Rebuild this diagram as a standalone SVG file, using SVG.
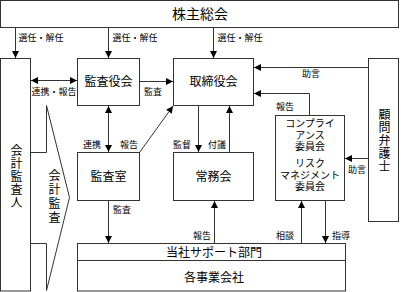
<svg xmlns="http://www.w3.org/2000/svg" width="401" height="292" viewBox="0 0 401 292">
<style>
.box{fill:#fff;stroke:#333;stroke-width:1}
.ln{fill:none;stroke:#333;stroke-width:1}
text{font-family:"Liberation Sans","Noto Sans CJK JP","Noto Sans CJK SC",sans-serif;fill:#000}
.t{font-size:12px;text-anchor:middle}
.v{font-size:12px;text-anchor:middle;writing-mode:vertical-rl}
.s{font-size:9px;text-anchor:middle}
.c{font-size:10px;text-anchor:middle}
</style>
<defs>
<marker id="ah" markerUnits="userSpaceOnUse" markerWidth="8" markerHeight="8" refX="7" refY="4" orient="auto-start-reverse">
<path d="M0,0.5 L7,4 L0,7.5 z" fill="#000"/>
</marker>
</defs>
<rect width="401" height="292" fill="#fff"/>
<g id="kabunushi"><rect class="box" x="0.5" y="0.5" width="398" height="27"/><text x="200" y="19" style="font-size:14px;text-anchor:middle">株主総会</text></g>
<g id="kaikei-kansanin"><rect class="box" x="0.5" y="58.5" width="30" height="232.5"/>
<text class="v" x="15" y="177" letter-spacing="1">会計監査人</text></g>
<g id="kaikei-kansa"><polyline class="ln" points="30.5,152.5 46.5,152.5 46.5,105.5 69.5,197.5 46.5,290.5 46.5,243.5 30.5,243.5"/>
<text class="v" x="53" y="197" letter-spacing="2">会計監査</text></g>
<g id="kansayakukai"><rect class="box" x="77.5" y="58.5" width="62" height="47"/><text class="t" x="108.5" y="86">監査役会</text></g>
<g id="torishimariyakukai"><rect class="box" x="173.5" y="58.5" width="80" height="47"/><text class="t" x="213.5" y="86">取締役会</text></g>
<g id="kansashitsu"><rect class="box" x="77.5" y="152.5" width="62" height="48"/><text class="t" x="108.5" y="181">監査室</text></g>
<g id="jomukai"><rect class="box" x="173.5" y="152.5" width="80" height="48"/><text class="t" x="213.5" y="181">常務会</text></g>
<g id="compliance"><rect class="box" x="275.5" y="115.5" width="69" height="85"/>
<text class="c" x="310" y="127">コンプライ</text>
<text class="c" x="310" y="138.5">アンス</text>
<text class="c" x="310" y="150">委員会</text>
<text class="c" x="310" y="167">リスク</text>
<text class="c" x="310" y="178.5">マネジメント</text>
<text class="c" x="310" y="190">委員会</text></g>
<g id="komon"><rect class="box" x="368.5" y="58.5" width="30" height="163"/>
<text class="v" x="383" y="141" letter-spacing="1">顧問弁護士</text></g>
<g id="support"><rect class="box" x="77.5" y="243.5" width="268" height="17"/><text class="t" x="214" y="256.5">当社サポート部門</text></g>
<g id="jigyogaisha"><rect class="box" x="77.5" y="260.5" width="268" height="30.5"/><text class="t" x="214" y="281.5">各事業会社</text></g>
<g id="connectors">
<line class="ln" x1="15.5" y1="28" x2="15.5" y2="58" marker-end="url(#ah)"/>
<line class="ln" x1="108.5" y1="28" x2="108.5" y2="58" marker-end="url(#ah)"/>
<line class="ln" x1="213.5" y1="28" x2="213.5" y2="58" marker-end="url(#ah)"/>
<line class="ln" x1="31" y1="80.5" x2="77" y2="80.5" marker-start="url(#ah)" marker-end="url(#ah)"/>
<line class="ln" x1="140" y1="81.5" x2="173" y2="81.5" marker-end="url(#ah)"/>
<line class="ln" x1="368" y1="67.5" x2="254" y2="67.5" marker-end="url(#ah)"/>
<polyline class="ln" points="309.5,115 309.5,93.5 254,93.5" marker-end="url(#ah)"/>
<line class="ln" x1="108.5" y1="106" x2="108.5" y2="152" marker-start="url(#ah)" marker-end="url(#ah)"/>
<line class="ln" x1="139.5" y1="152.5" x2="173" y2="106" marker-end="url(#ah)"/>
<line class="ln" x1="198.5" y1="106" x2="198.5" y2="152" marker-end="url(#ah)"/>
<line class="ln" x1="229.5" y1="152" x2="229.5" y2="106" marker-end="url(#ah)"/>
<line class="ln" x1="368" y1="158.5" x2="345" y2="158.5" marker-end="url(#ah)"/>
<line class="ln" x1="108.5" y1="201" x2="108.5" y2="243" marker-end="url(#ah)"/>
<line class="ln" x1="214.5" y1="243" x2="214.5" y2="201" marker-end="url(#ah)"/>
<line class="ln" x1="301.5" y1="243" x2="301.5" y2="201" marker-end="url(#ah)"/>
<line class="ln" x1="325.5" y1="201" x2="325.5" y2="243" marker-end="url(#ah)"/>
<text class="s" x="41" y="40.5">選任・解任</text>
<text class="s" x="135" y="40.5">選任・解任</text>
<text class="s" x="240" y="40.5">選任・解任</text>
<text class="s" x="54" y="94.5">連携・報告</text>
<text class="s" x="153" y="94.5">監査</text>
<text class="s" x="311" y="76.5">助言</text>
<text class="s" x="285" y="109.5">報告</text>
<text class="s" x="92" y="148">連携</text>
<text class="s" x="129" y="148">報告</text>
<text class="s" x="182" y="148">監督</text>
<text class="s" x="217" y="148">付議</text>
<text class="s" x="357" y="172.5">助言</text>
<text class="s" x="122" y="212.5">監査</text>
<text class="s" x="202" y="239">報告</text>
<text class="s" x="285" y="239">相談</text>
<text class="s" x="341" y="239">指導</text>
</g>
</svg>
